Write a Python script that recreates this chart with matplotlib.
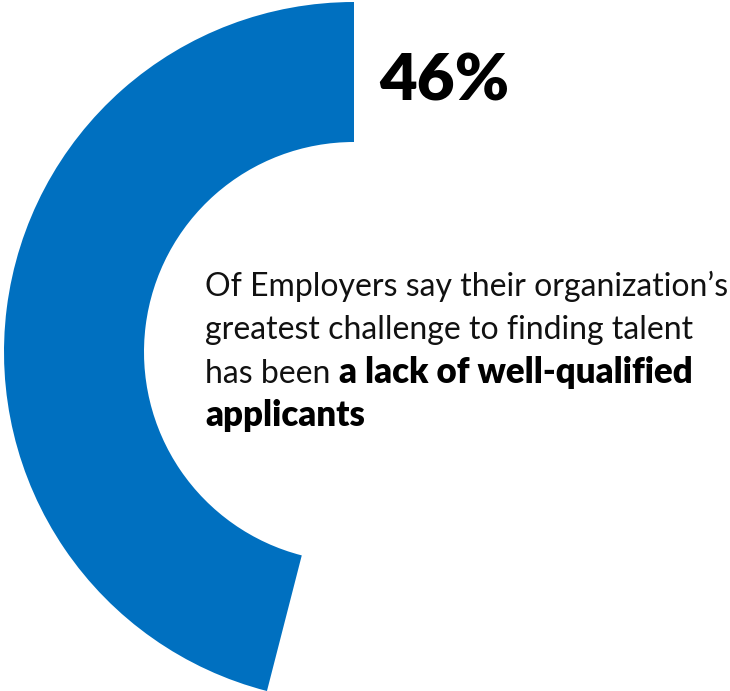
import matplotlib
matplotlib.use("Agg")
import matplotlib.pyplot as plt

# share of employers and the text beside the ring
share = 46
headline = "46%"
body_lines = ["Of Employers say their organization\u2019s",
              "greatest challenge to finding talent"]
mixed_plain = "has been "
mixed_bold = "a lack of well-qualified"
last_bold = "applicants"

W, H = 730, 691
fig = plt.figure(figsize=(W / 100, H / 100), dpi=100)
ax = fig.add_axes([0, 0, 1, 1])

ax.pie([share, 100 - share], startangle=90, counterclock=True,
       radius=350, center=(354, H - 352),
       colors=["#0070c0", "none"],
       wedgeprops=dict(width=140, linewidth=0))
ax.set_xlim(0, W)
ax.set_ylim(0, H)
ax.set_aspect("auto")
ax.axis("off")

ax.text(379, H - 100, headline, fontsize=47, fontweight="heavy",
        family="Lato", color="black", va="baseline", ha="left")

light = dict(fontsize=23, fontweight="normal", family="Lato", color="#111111",
             va="baseline", ha="left")
bold = dict(fontsize=25, fontweight="heavy", family="Lato", color="black",
            va="baseline", ha="left")

x0 = 205
baselines = [296, 339, 383, 426]
for s, y in zip(body_lines, baselines):
    ax.text(x0, H - y, s, **light)

t = ax.text(x0, H - baselines[2], mixed_plain, **light)
fig.canvas.draw()
bb = t.get_window_extent()
x1 = ax.transData.inverted().transform((bb.x1, bb.y0))[0]
ax.text(x1, H - baselines[2], mixed_bold, **bold)
ax.text(x0, H - baselines[3], last_bold, **bold)

fig.savefig("out.png", dpi=100)
